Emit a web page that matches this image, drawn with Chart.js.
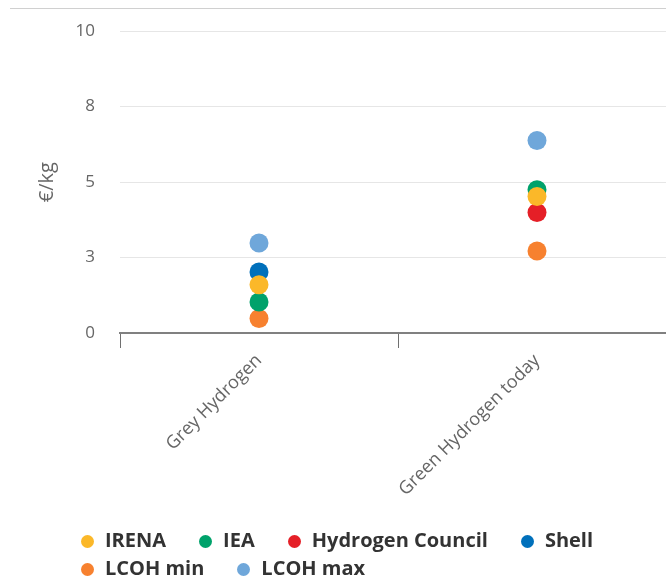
<!DOCTYPE html>
<html>
<head>
<meta charset="utf-8">
<script src="https://cdn.jsdelivr.net/npm/chart.js@4"></script>
<style>
    html, body { margin: 0; padding: 0; background: #fff; overflow: hidden; }
    #wrap { position: relative; width: 666px; height: 582px; overflow: hidden; }
    #topline { position: absolute; left: 10px; right: 0; top: 8px; border-top: 1px solid #d0d0d0; }
    #chart { position: absolute; left: 0; top: 0; }
    #legend {
        position: absolute; left: 81px; top: 526px; width: 565px;
        font-family: "Open Sans", sans-serif; font-weight: bold; font-size: 20px; color: #333;
        line-height: 28px;
    }
    #legend span.item { display: inline-block; margin-right: 33px; white-space: nowrap; }
    #legend span.dot {
        display: inline-block; width: 13px; height: 13px; border-radius: 50%;
        margin-right: 11px; vertical-align: -1px;
    }
</style>
</head>
<body>
<div id="wrap">
    <div id="topline"></div>
    <canvas id="chart" width="676" height="582"></canvas>
    <div id="legend"></div>
</div>
<script>
// Categories and series (€/kg)
const categories = ['Grey Hydrogen', 'Green Hydrogen today'];
const seriesNames = ['IRENA', 'IEA', 'Hydrogen Council', 'Shell', 'LCOH min', 'LCOH max'];
const irena = [1.6, 4.52];
const iea = [1.03, 4.75];
const hydrogenCouncil = [null, 3.99];
const shell = [2.02, null];
const lcohMin = [0.48, 2.72];
const lcohMax = [2.98, 6.38];
const seriesColors = ['#fbb829', '#00a26b', '#e51f27', '#0070bb', '#f7812f', '#6fa7da'];
const yTicks = [0, 2.5, 5, 7.5, 10];

const seriesValues = [irena, iea, hydrogenCouncil, shell, lcohMin, lcohMax];

const datasets = seriesNames.map(function(name, i) {
    return {
        label: name,
        data: seriesValues[i],
        showLine: false,
        pointRadius: 9.5,
        pointHoverRadius: 9.5,
        pointBorderWidth: 0,
        pointBackgroundColor: seriesColors[i],
        borderColor: seriesColors[i],
        backgroundColor: seriesColors[i]
    };
});

const axisFont = { family: '"Open Sans", sans-serif', size: 17 };

new Chart(document.getElementById('chart').getContext('2d'), {
    type: 'line',
    data: { labels: categories, datasets: datasets },
    options: {
        responsive: false,
        animation: false,
        layout: { autoPadding: false, padding: { top: 10, left: 0, right: 0, bottom: 0 } },
        plugins: {
            legend: { display: false },
            tooltip: { enabled: false }
        },
        scales: {
            x: {
                offset: true,
                grid: {
                    offset: true,
                    drawOnChartArea: false,
                    drawTicks: true,
                    tickLength: 15,
                    color: '#707070',
                    lineWidth: 1
                },
                border: { display: true, color: '#808080', width: 2 },
                ticks: {
                    minRotation: 45,
                    maxRotation: 45,
                    padding: 2,
                    color: '#666',
                    font: { family: '"Open Sans", sans-serif', size: 18 }
                },
                afterFit: function(scale) { scale.height = 582 - 333; }
            },
            y: {
                min: 0,
                max: 10,
                afterBuildTicks: function(scale) {
                    scale.ticks = yTicks.map(function(v) { return { value: v }; });
                },
                // invisible tick marks keep the labels clear of the plot edge
                grid: {
                    color: '#e6e6e6', lineWidth: 1,
                    drawTicks: true, tickLength: 4, tickColor: 'rgba(0,0,0,0)'
                },
                border: { display: false },
                ticks: {
                    padding: 21,
                    color: '#666',
                    font: axisFont,
                    callback: function(v) { return Math.round(v); }
                },
                title: {
                    display: true,
                    text: '€/kg',
                    color: '#666',
                    font: { family: '"Open Sans", sans-serif', size: 20 },
                    padding: { top: 35, bottom: 0 }
                },
                afterFit: function(scale) { scale.width = 120; }
            }
        }
    }
});

// Legend built from the same series lists
const legend = document.getElementById('legend');
seriesNames.forEach(function(name, i) {
    const item = document.createElement('span');
    item.className = 'item';
    const dot = document.createElement('span');
    dot.className = 'dot';
    dot.style.background = seriesColors[i];
    item.appendChild(dot);
    item.appendChild(document.createTextNode(name));
    legend.appendChild(item);
});
</script>
</body>
</html>
